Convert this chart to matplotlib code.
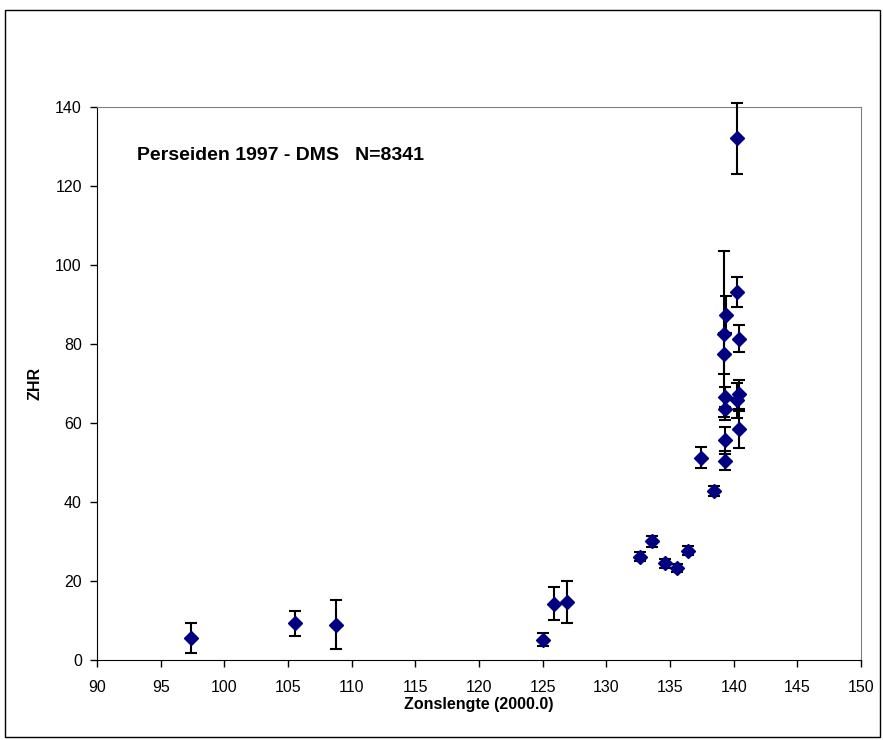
import matplotlib
matplotlib.use("Agg")
import matplotlib.pyplot as plt
from matplotlib.patches import Rectangle

plt.rcParams["font.family"] = ["Liberation Sans", "DejaVu Sans"]

# solar longitude (2000.0), ZHR and error
sol_long = [97.36, 105.58, 108.77, 125.01, 125.9, 126.9,
            132.66, 133.62, 134.62, 135.54, 136.43, 137.47, 138.45,
            139.25, 139.25, 139.4, 139.35, 139.3, 139.3, 139.35,
            140.25, 140.3, 140.4, 140.4, 140.3, 140.45]
zhr = [5.5, 9.3, 9.0, 5.2, 14.3, 14.8,
       26.2, 30.1, 24.5, 23.4, 27.7, 51.3, 42.9,
       82.5, 77.6, 87.5, 66.6, 63.6, 55.7, 50.5,
       132.1, 93.2, 81.4, 67.3, 65.8, 58.4]
zhr_err = [3.8, 3.1, 6.2, 1.7, 4.2, 5.3,
           1.2, 1.4, 1.1, 1.0, 1.2, 2.6, 1.3,
           21.0, 5.2, 4.7, 2.6, 2.7, 3.4, 2.4,
           8.9, 3.9, 3.4, 3.7, 4.4, 4.6]

x_ticks = list(range(90, 151, 5))
y_ticks = list(range(0, 141, 20))

fig = plt.figure(figsize=(8.83, 7.40), dpi=100)
ax = fig.add_axes([0.110, 0.108, 0.865, 0.747])

ax.errorbar(sol_long, zhr, yerr=zhr_err, fmt="D", color="#000080",
            markersize=7, ecolor="black", elinewidth=1.5, capsize=4,
            capthick=1.5, zorder=3, clip_on=False)

ax.set_xlim(90, 150)
ax.set_ylim(0, 140)
ax.set_xticks(x_ticks)
ax.set_yticks(y_ticks)
ax.tick_params(direction="out", length=5, labelsize=11.5, width=1)
ax.tick_params(axis="x", pad=9)
ax.tick_params(axis="y", pad=6)

for side in ["top", "right"]:
    ax.spines[side].set_color("#808080")
for side in ["left", "bottom"]:
    ax.spines[side].set_color("black")

ax.set_xlabel("Zonslengte (2000.0)", fontsize=11.5, fontweight="bold", labelpad=2)
ax.set_ylabel("ZHR", fontsize=11.5, fontweight="bold", labelpad=9)

ax.text(0.052, 0.913, "Perseiden 1997 - DMS   N=8341", transform=ax.transAxes,
        fontsize=14, fontweight="bold", va="center", ha="left")

# outer chart border
fig.patches.append(Rectangle((5 / 883, 3 / 740), 875 / 883, 727 / 740,
                             transform=fig.transFigure, fill=False,
                             edgecolor="black", linewidth=1))

fig.savefig("out.png", dpi=100)
